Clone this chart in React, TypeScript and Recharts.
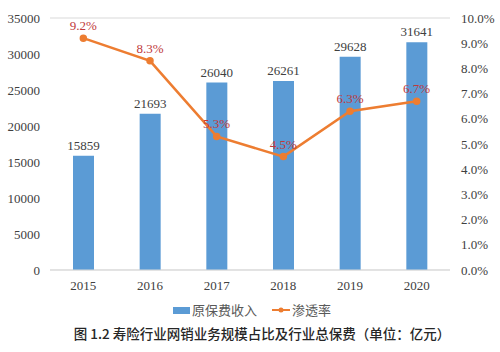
import { Bar, ComposedChart, LabelList, Line, XAxis, YAxis, CartesianGrid } from "recharts";

const years = ["2015", "2016", "2017", "2018", "2019", "2020"];
const premium = [15859, 21693, 26040, 26261, 29628, 31641];
const penetration = [9.2, 8.3, 5.3, 4.5, 6.3, 6.7];
const leftTicks = [0, 5000, 10000, 15000, 20000, 25000, 30000, 35000];
const rightTicks = [0, 1, 2, 3, 4, 5, 6, 7, 8, 9, 10];

const data = years.map((y, i) => ({ year: y, premium: premium[i], rate: penetration[i] }));

const serif = '"Times New Roman", "Liberation Serif", serif';
const sans = '"Noto Sans CJK SC", "Noto Sans", sans-serif';

export default function App() {
  return (
    <div style={{ position: "absolute", left: 0, top: 0, width: 500, height: 352, background: "#fff" }}>
      <ComposedChart width={500} height={300} data={data} margin={{ top: 18, right: 0, left: 0, bottom: 10 }}>
        <CartesianGrid stroke="#D9D9D9" vertical={false} />
        <XAxis
          dataKey="year"
          height={20}
          tickLine={false}
          tickSize={0}
          tickMargin={11}
          axisLine={{ stroke: "#D9D9D9" }}
          tick={{ fill: "#404040", fontSize: 13, fontFamily: serif }}
        />
        <YAxis
          yAxisId="left"
          width={50}
          domain={[0, 35000]}
          ticks={leftTicks}
          tickLine={false}
          axisLine={false}
          tickSize={0}
          tickMargin={10}
          tick={{ fill: "#404040", fontSize: 13, fontFamily: serif }}
        />
        <YAxis
          yAxisId="right"
          orientation="right"
          width={50}
          domain={[0, 10]}
          ticks={rightTicks}
          tickFormatter={(v: number) => v.toFixed(1) + "%"}
          tickLine={false}
          axisLine={false}
          tickSize={0}
          tickMargin={11}
          tick={{ fill: "#404040", fontSize: 13, fontFamily: serif }}
        />
        <Bar yAxisId="left" dataKey="premium" fill="#5B9BD5" barSize={21} isAnimationActive={false}>
          <LabelList
            dataKey="premium"
            position="top"
            offset={6}
            fill="#404040"
            fontSize={13}
            fontFamily={serif}
          />
        </Bar>
        <Line
          yAxisId="right"
          dataKey="rate"
          stroke="#ED7D31"
          strokeWidth={2.5}
          dot={{ r: 2.5, fill: "#ED7D31", stroke: "#ED7D31" }}
          isAnimationActive={false}
        >
          <LabelList
            dataKey="rate"
            position="top"
            offset={8}
            fill="#C0393B"
            fontSize={13}
            fontFamily={serif}
            formatter={(v: number) => v.toFixed(1) + "%"}
          />
        </Line>
      </ComposedChart>
      <div
        style={{
          position: "absolute",
          top: 301,
          left: 173,
          display: "flex",
          alignItems: "center",
          fontFamily: sans,
          fontSize: 13,
          color: "#595959",
          lineHeight: "18px",
        }}
      >
        <span style={{ display: "inline-block", width: 17, height: 7, background: "#5B9BD5", marginRight: 2 }} />
        <span>原保费收入</span>
        <svg width={18} height={10} style={{ marginLeft: 15, marginRight: 2 }}>
          <line x1={0} y1={5} x2={18} y2={5} stroke="#ED7D31" strokeWidth={2} />
          <circle cx={9} cy={5} r={2.5} fill="#ED7D31" />
        </svg>
        <span>渗透率</span>
      </div>
      <div
        style={{
          position: "absolute",
          top: 324,
          left: 0,
          width: 524,
          textAlign: "center",
          fontFamily: sans,
          fontSize: 13.5,
          fontWeight: 500,
          color: "#262626",
          lineHeight: "18px",
        }}
      >
        图 1.2 寿险行业网销业务规模占比及行业总保费（单位：亿元）
      </div>
    </div>
  );
}
